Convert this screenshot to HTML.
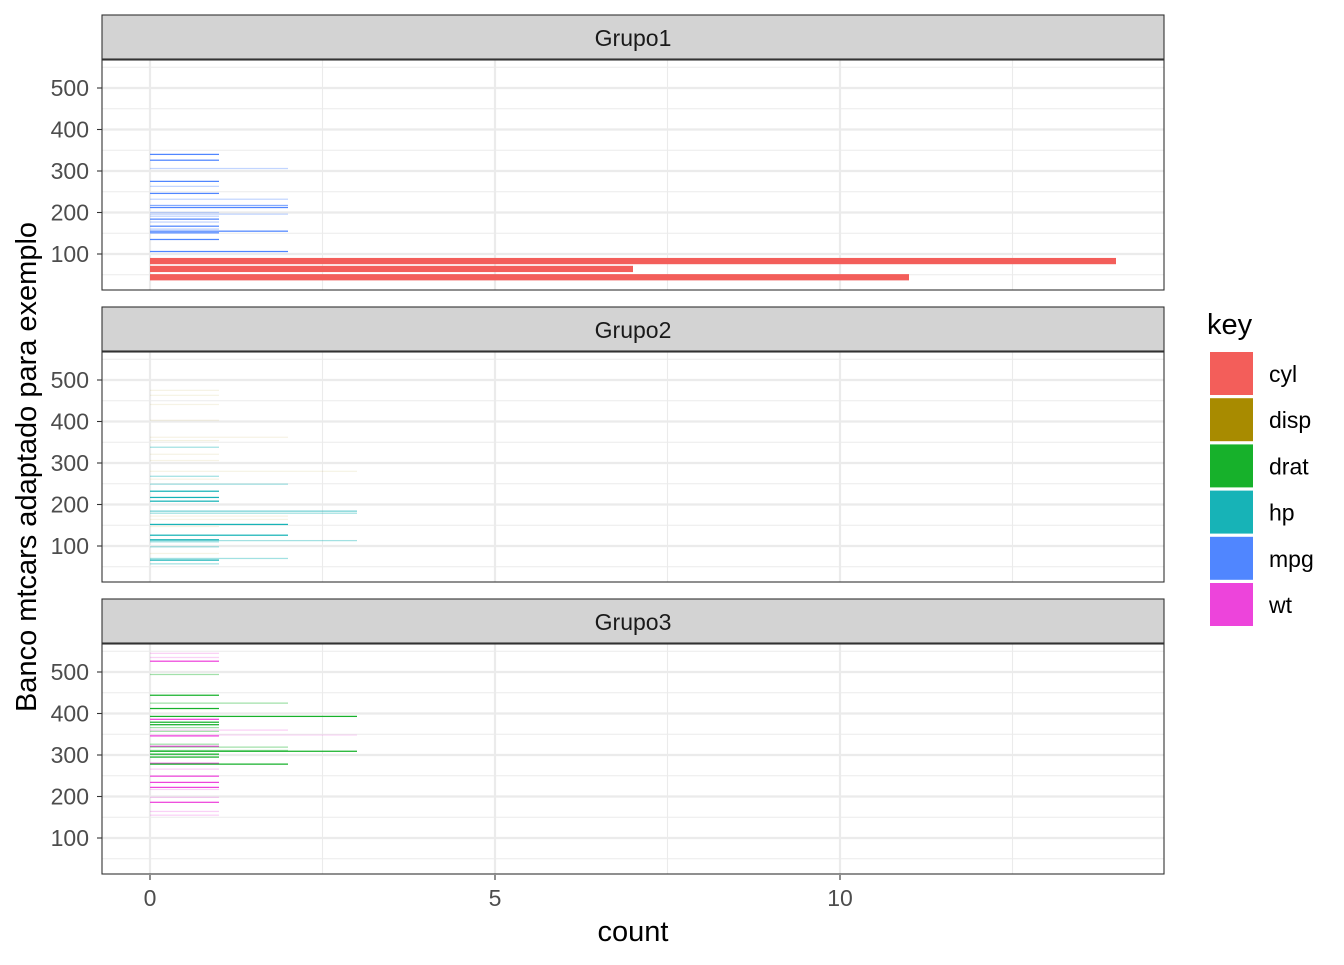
<!DOCTYPE html>
<html><head><meta charset="utf-8"><style>
body{margin:0;background:#fff;font-family:"Liberation Sans",Arial,sans-serif;}
svg text{font-family:"Liberation Sans",Arial,sans-serif;}
</style></head><body>
<svg id="chart" width="1344" height="960" xmlns="http://www.w3.org/2000/svg">
<g id="panels"></g>
<text x="36" y="467" transform="rotate(-90 36 467)" text-anchor="middle" font-size="29" fill="#000">Banco mtcars adaptado para exemplo</text>
<text x="633" y="941" text-anchor="middle" font-size="29" fill="#000">count</text>
<g id="legend">
<text x="1207" y="334" font-size="29" fill="#000">key</text>
</g>
</svg>
<script>
const keys=["cyl","disp","drat","hp","mpg","wt"];
const keyColors=["#F35E5A","#A88B00","#17B12B","#17B3B7","#5086FF","#ED44DB"];
const groups=["Grupo1","Grupo2","Grupo3"];
const xTicks=[0,5,10];
const yTicks=[100,200,300,400,500];
// Panel 1 data: value, count, key index, alpha
const p1Values=[340,326,306,275,263,246,232,217,212,200,196,191,184,177,167,160,155,151,135,106,82,63,43];
const p1Counts=[1,1,2,1,1,1,2,2,2,1,2,1,1,1,1,1,2,1,1,2,14,7,11];
const p1Keys=[4,4,4,4,4,4,4,4,4,4,4,4,4,4,4,4,4,4,4,4,0,0,0];
const p1Alpha=[1,1,.35,1,.35,1,.35,.7,1,.35,.35,.35,1,.35,1,.4,1,1,1,1,1,1,1];
// Panel 2
const p2Values=[475,463,441,403,362,354,338,321,306,280,268,261,249,232,217,208,184,179,172,164,152,147,126,115,113,110,98,82,70,66,57];
const p2Counts=[1,1,1,1,2,1,1,1,1,3,1,1,2,1,1,1,3,3,2,2,2,1,2,1,3,1,1,1,2,1,1];
const p2Keys=[1,1,1,1,1,1,3,1,1,1,3,1,3,3,3,3,3,3,1,1,3,1,3,3,3,3,3,1,3,3,3];
const p2Alpha=[.1,.1,.1,.1,.1,.12,.4,.1,.1,.1,.4,.1,.4,1,1,1,.6,.4,.1,.1,1,.1,1,1,.4,.4,.4,.1,.4,1,.4];
// Panel 3
const p3Values=[545,535,526,494,444,425,412,393,386,379,373,366,360,357,348,346,326,321,319,311,309,302,295,280,278,266,249,234,222,217,198,186,164,155];
const p3Counts=[1,1,1,1,1,2,1,3,1,1,1,1,2,1,3,1,1,1,2,2,3,1,1,1,2,1,1,1,1,1,1,1,1,1];
const p3Keys=[5,5,5,2,2,2,2,2,5,2,2,2,5,2,5,5,2,5,2,2,2,2,2,5,2,5,5,5,5,5,5,5,5,5];
const p3Alpha=[.25,.25,1,.4,1,.4,1,1,1,1,1,.4,.25,.4,.2,1,.4,1,.4,.4,1,1,1,1,1,.25,1,1,1,.25,.25,1,.25,.25];
const valueSets=[p1Values,p2Values,p3Values],countSets=[p1Counts,p2Counts,p3Counts],keySets=[p1Keys,p2Keys,p3Keys],alphaSets=[p1Alpha,p2Alpha,p3Alpha];

const NS="http://www.w3.org/2000/svg";
function mk(tag,attrs,parent){const e=document.createElementNS(NS,tag);for(const k in attrs)e.setAttribute(k,attrs[k]);parent.appendChild(e);return e;}
const PX0=150,PXU=69,PL=102,PR=1164;
function xs(c){return PX0+c*PXU;}
const stripTop=[15,307,599];
function ys(v,p){return stripTop[p]+280.5-0.415*v;}
const panels=document.getElementById('panels');
for(let p=0;p<3;p++){
  const g=mk('g',{},panels);
  
  
  const st=stripTop[p],pt=st+45,pb=st+275;
  const strip=mk('rect',{x:PL,y:st,width:PR-PL,height:44,fill:'#d3d3d3',stroke:'#333','stroke-width':1.1},g);
  
  
  const stt=mk('text',{x:(PL+PR)/2,y:st+31,'text-anchor':'middle','font-size':23,fill:'#1a1a1a'},g);
  stt.textContent=groups[p];
  
  
  for(let v=50;v<=550;v+=100){const y=ys(v,p);if(y>pt&&y<pb)mk('line',{x1:PL,x2:PR,y1:y,y2:y,stroke:'#ebebeb','stroke-width':1.1},g);}
  for(const c of [2.5,7.5,12.5])mk('line',{x1:xs(c),x2:xs(c),y1:pt,y2:pb,stroke:'#ebebeb','stroke-width':1.1},g);
  for(const v of yTicks){const y=ys(v,p);mk('line',{x1:PL,x2:PR,y1:y,y2:y,stroke:'#ebebeb','stroke-width':2.2},g);
    mk('line',{x1:PL-5,x2:PL,y1:y,y2:y,stroke:'#333','stroke-width':1.1},g);
    const t=mk('text',{x:PL-13,y:y+8,'text-anchor':'end','font-size':23,fill:'#4d4d4d'},g);t.textContent=v;
    
    }
  for(const c of xTicks)mk('line',{x1:xs(c),x2:xs(c),y1:pt,y2:pb,stroke:'#ebebeb','stroke-width':2.2},g);
  const vals=valueSets[p],cnts=countSets[p],ks=keySets[p],al=alphaSets[p];
  for(let i=0;i<vals.length;i++){
    const bw=ks[i]===0?17:3;
    const y1=ys(vals[i]+bw/2,p),y2=ys(vals[i]-bw/2,p);
    const r=mk('rect',{x:xs(0),y:y1,width:xs(cnts[i])-xs(0),height:Math.max(1,y2-y1-(ks[i]===0?0.8:0)),fill:keyColors[ks[i]],'fill-opacity':al[i]},g);
    
    
  }
  const fr=mk('rect',{x:PL,y:pt,width:PR-PL,height:pb-pt,fill:'none',stroke:'#333','stroke-width':1.1},g);
  
  
}
const ax=mk('g',{},document.getElementById('chart'));


for(const c of xTicks){mk('line',{x1:xs(c),x2:xs(c),y1:875,y2:880,stroke:'#333','stroke-width':1.1},ax);
  const t=mk('text',{x:xs(c),y:906,'text-anchor':'middle','font-size':23,fill:'#4d4d4d'},ax);t.textContent=c;
  
  }
const lg=document.getElementById('legend');
for(let i=0;i<keys.length;i++){
  const y=352+i*46.2;
  const r=mk('rect',{x:1210,y:y,width:43,height:43,fill:keyColors[i]},lg);
  
  
  const t=mk('text',{x:1269,y:y+30,'font-size':23,fill:'#000'},lg);t.textContent=keys[i];
  
  
}
</script>
</body></html>
